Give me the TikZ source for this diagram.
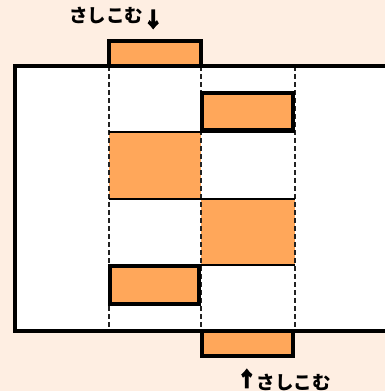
\documentclass[tikz,border=0pt]{standalone}
\usepackage{fontspec}
\usepackage{tikz}
\newfontfamily\jpfont{Noto Sans CJK JP}
\newfontfamily\jparrow{Noto Sans CJK JP Bold}[FakeBold=6]
\definecolor{paper}{HTML}{FEEEE2}
\definecolor{strip}{HTML}{FFA75A}
\definecolor{guide}{HTML}{222222}

\begin{document}
\begin{tikzpicture}[x=1pt,y=-1pt,
  tape/.style={fill=strip},
  rim/.style={line width=3.8pt, line join=miter},
  seam/.style={line width=2pt},
  slit/.style={guide, line width=1.6pt, dash pattern=on 4.5pt off 3.5pt},
  jp label/.style={font=\jpfont\bfseries\fontsize{18.5}{18.5}\selectfont, inner sep=0pt}]
  \clip (0,0) rectangle (385,391);
  \fill[paper] (0,0) rectangle (385,391);
  % card
  \fill[white] (15.3,66) rectangle (400,331.2);
  % strip
  \fill[tape] (108.7,40.7) rectangle (200.7,66);
  \fill[tape] (202,93.3) rectangle (293,130);
  \fill[tape] (108.7,132.3) rectangle (201,199);
  \fill[tape] (201,199) rectangle (295,265.3);
  \fill[tape] (109.7,265.7) rectangle (198.7,303.7);
  \fill[tape] (202,331.2) rectangle (292.8,356.3);
  % slits
  \foreach \x in {108.7,201,295}
    \draw[slit] (\x,66) -- (\x,331.2);
  \foreach \y in {132.3,199,265.3}
    \draw[seam] (108.7,\y) -- (295,\y);
  % borders
  \draw[rim] (108.7,66) |- (200.7,40.7) -- (200.7,66);
  \draw[rim] (202,93.3) rectangle (293,130);
  \draw[rim] (109.7,265.7) rectangle (198.7,303.7);
  \draw[rim] (202,331.2) |- (292.8,356.3) -- (292.8,331.2);
  \draw[line width=4.2pt] (400,66) -| (15.3,331.2) -- (400,331.2);
  % labels
  \node[jp label, anchor=west] (push top) at (69,18)
    {さしこむ\raisebox{-4pt}{\jparrow\fontsize{20}{20}\selectfont ↓}};
  \node[jp label, anchor=east] (push bottom) at (331,380)
    {\raisebox{3pt}{\jparrow\fontsize{20}{20}\selectfont ↑}さしこむ};
\end{tikzpicture}
\end{document}
